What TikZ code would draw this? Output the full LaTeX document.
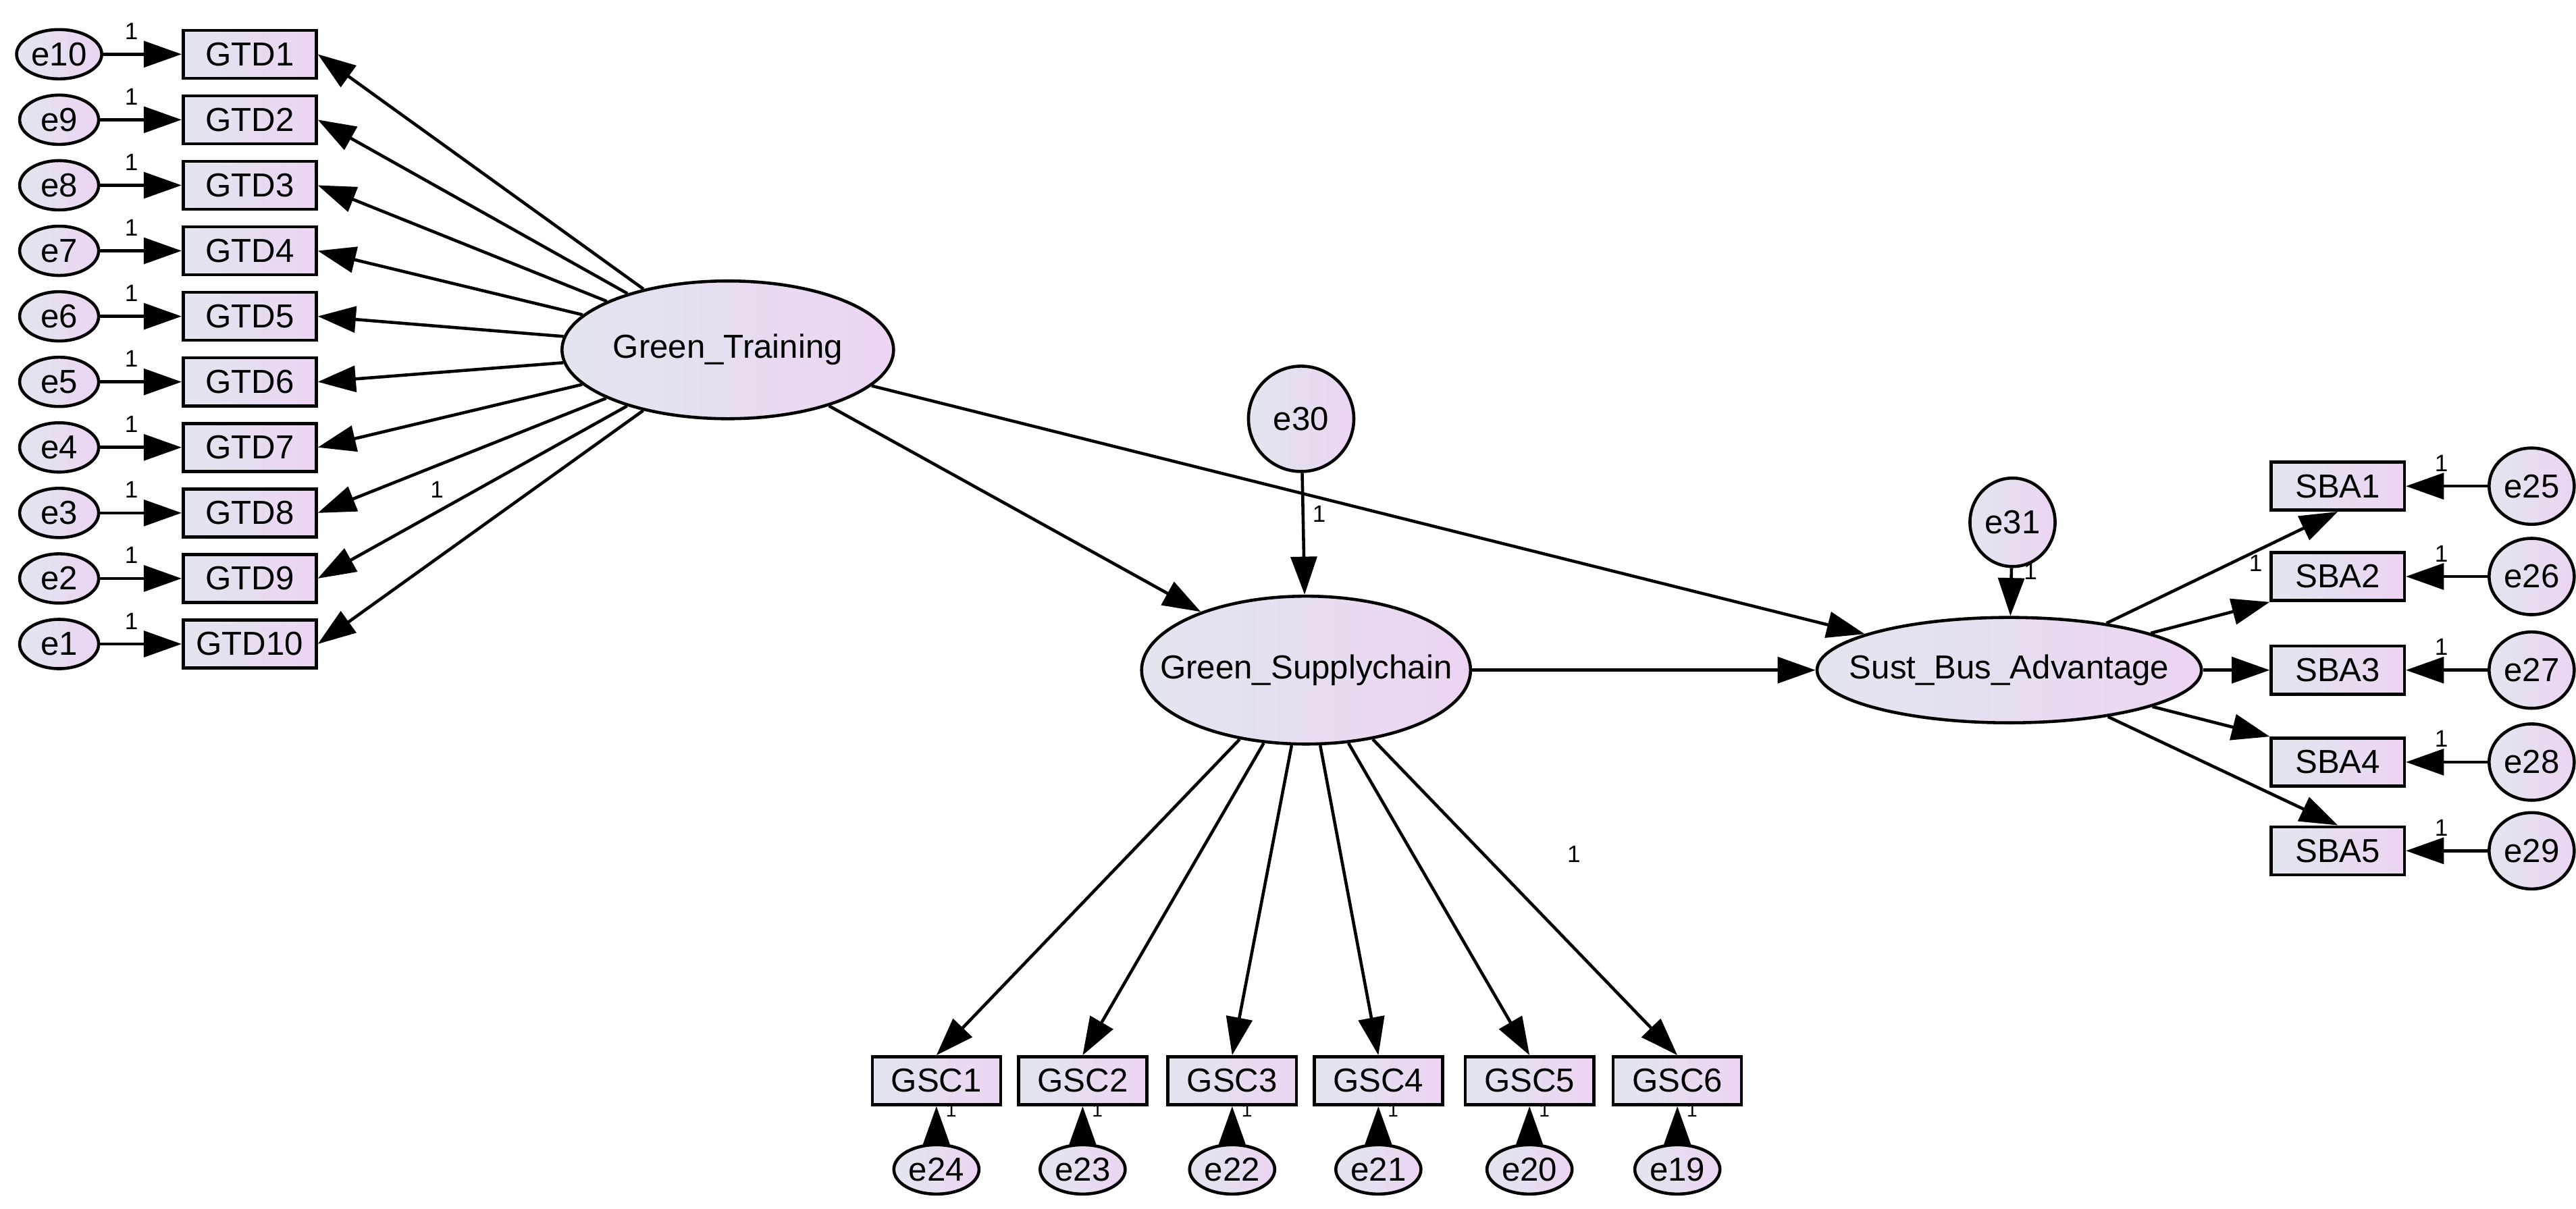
\documentclass[tikz,border=0pt]{standalone}
\usepackage{fontspec}
\setmainfont{Liberation Sans}
\usetikzlibrary{arrows.meta,shapes.geometric}
\definecolor{cL}{RGB}{226,230,238}
\definecolor{cR}{RGB}{236,212,242}
\begin{document}
\begin{tikzpicture}[x=0.02433cm,y=-0.02433cm,
  base/.style={draw,line width=1.3pt,left color=cL,right color=cR,font=\fontsize{14}{16}\selectfont,inner sep=1pt},
  box/.style={base,rectangle,minimum width=1.97cm,minimum height=0.71cm},
  err/.style={base,ellipse,minimum width=1.17cm,minimum height=0.73cm},
  lat/.style={base,ellipse},
  arr/.style={line width=1.3pt,-{Triangle[length=16pt,width=11pt]}},
  one/.style={font=\fontsize{10}{11}\selectfont,inner sep=0pt}]
\useasboundingbox (0,0) rectangle (1568,735.7);
% left block
\foreach \i/\e [count=\k from 0] in {1/10,2/9,3/8,4/7,5/6,6/5,7/4,8/3,9/2,10/1}{
  \pgfmathsetmacro\yy{33+39.9*\k}
  \node[box] (GTD\i) at (152,\yy) {GTD\i};
  \node[err] (e\e) at (36,\yy) {e\e};
  \draw[arr] (e\e) -- (GTD\i);
  \node[one] at (80,\yy-14) {1};
}
\node[lat,minimum width=4.87cm,minimum height=2.04cm] (GT) at (443,213) {Green\_Training};
\foreach \i in {1,...,10}{\draw[arr] (GT) -- (GTD\i.east);}
\node[one] at (266,298) {1};
% middle
\node[lat,minimum width=1.56cm,minimum height=1.56cm] (e30) at (792,255) {e30};
\node[lat,inner xsep=-0.47cm,inner ysep=0pt,minimum width=4.87cm,minimum height=2.19cm] (GS) at (795,408) {Green\_Supplychain};
\draw[arr] (e30) -- (GS);
\node[one] at (803,313) {1};
\draw[arr] (GT) -- (GS);
% right
\node[lat,inner xsep=-0.36cm,inner ysep=0pt,minimum width=5.69cm,minimum height=1.56cm] (SB) at (1223,408) {Sust\_Bus\_Advantage};
\node[lat,minimum width=1.07cm,minimum height=1.31cm] (e31) at (1225,318) {e31};
\draw[arr] (e31) -- (SB);
\node[one] at (1236,348) {1};
\draw[arr] (GT) -- (SB);
\draw[arr] (GS) -- (SB);
\foreach \i/\y in {1/296,2/351,3/408,4/464,5/518}{
  \pgfmathtruncatemacro\en{24+\i}
  \node[box] (SBA\i) at (1423,\y) {SBA\i};
  \node[err,minimum width=1.13cm,minimum height=1.13cm] (e\en) at (1541,\y) {e\en};
  \draw[arr] (e\en) -- (SBA\i);
  \node[one] at (1486,\y-14) {1};
}
\draw[arr] (SB) -- (SBA1.south);
\draw[arr] (SB) -- (SBA2.south west);
\draw[arr] (SB) -- (SBA3);
\draw[arr] (SB) -- (SBA4.north west);
\draw[arr] (SB) -- (SBA5.north);
\node[one] at (1373,343) {1};
% bottom
\foreach \i/\x/\e in {1/570/24,2/659/23,3/750/22,4/839/21,5/931/20,6/1021/19}{
  \node[box,minimum width=1.9cm] (GSC\i) at (\x,658) {GSC\i};
  \node[err,minimum width=1.22cm] (e\e) at (\x,712) {e\e};
  \draw[arr] (e\e) -- (GSC\i);
  \node[one,font=\fontsize{8}{9}\selectfont] at (\x+9,676) {1};
  \draw[arr] (GS) -- (GSC\i.north);
}
\node[one] at (958,520) {1};
\end{tikzpicture}
\end{document}
